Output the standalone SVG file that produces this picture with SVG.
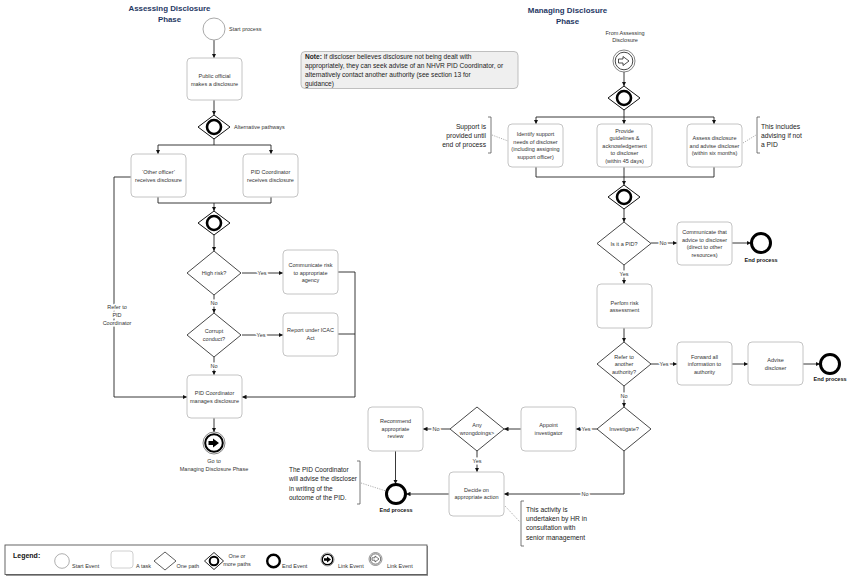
<svg xmlns="http://www.w3.org/2000/svg" width="850" height="579" viewBox="0 0 850 579">
<style>
text{font-family:"Liberation Sans",Arial,sans-serif;fill:#333}
.t{font-size:5.5px;text-anchor:middle}
.l{font-size:5.5px}
.lbl{font-size:5.5px;text-anchor:middle;stroke:#fff;stroke-width:3;paint-order:stroke}
.ttl{font-size:7.9px;font-weight:bold;text-anchor:middle;fill:#1f3864}
.ann{font-size:6.7px;fill:#222}
.end-l{font-size:5.5px;font-weight:bold;text-anchor:middle;fill:#111}
.box{fill:#fff;stroke:#c4c4c4;stroke-width:1}
.dec{fill:#fff;stroke:#333;stroke-width:0.9}
.gw{fill:#fff;stroke:#111;stroke-width:1}
.gwc{fill:none;stroke:#000;stroke-width:2.6}
.ende{fill:#fff;stroke:#000;stroke-width:3}
.start{fill:#fff;stroke:#aaa;stroke-width:1}
.c{fill:none;stroke:#222;stroke-width:0.9}
.ca{fill:none;stroke:#222;stroke-width:0.9;marker-end:url(#ah)}
.br{fill:none;stroke:#555;stroke-width:0.8}
.dot{fill:none;stroke:#999;stroke-width:0.8;stroke-dasharray:1.2 1.2}
</style>
<defs>
<marker id="ah" viewBox="0 0 6 6" refX="6" refY="3" markerWidth="4.5" markerHeight="4.5" markerUnits="userSpaceOnUse" orient="auto">
<path d="M0,0 L6,3 L0,6 z" fill="#111"/>
</marker>
</defs>
<rect width="850" height="579" fill="#fff"/>

<!-- titles -->
<text class="ttl" x="169.5" y="11">Assessing Disclosure</text>
<text class="ttl" x="169.5" y="22">Phase</text>
<text class="ttl" x="567.5" y="13">Managing Disclosure</text>
<text class="ttl" x="567.5" y="24">Phase</text>

<!-- connectors -->
<g id="connectors">
<path class="ca" d="M214,40 V58"/>
<path class="ca" d="M214,100 V115"/>
<path class="c" d="M214,139 V145 M158,145 H271"/>
<path class="ca" d="M158,145 V154"/>
<path class="ca" d="M271,145 V154"/>
<path class="c" d="M158,197 V203 H271 V197"/>
<path class="ca" d="M214,203 V211"/>
<path class="ca" d="M214,235 V251"/>
<path class="ca" d="M242,273 H283"/>
<path class="ca" d="M338,272 H355 V397 H242"/>
<path class="c" d="M338,334 H355"/>
<path class="ca" d="M214,295 V313"/>
<path class="ca" d="M242,335 H283"/>
<path class="ca" d="M214,357 V375"/>
<path class="ca" d="M131,177 H114 V397 H187"/>
<path class="ca" d="M214,418 V432"/>

<path class="ca" d="M624,72 V86"/>
<path class="c" d="M624,110 V117 M536,117 H714"/>
<path class="ca" d="M536,117 V124"/>
<path class="ca" d="M624,117 V124"/>
<path class="ca" d="M714,117 V124"/>
<path class="c" d="M536,167 V177 H714 V167"/>
<path class="ca" d="M624,167 V185"/>
<path class="ca" d="M624,209 V222"/>
<path class="ca" d="M651,243 H677"/>
<path class="ca" d="M732,243 H751"/>
<path class="ca" d="M624,265 V284"/>
<path class="ca" d="M624,328 V342"/>
<path class="ca" d="M651,364 H677"/>
<path class="ca" d="M732,364 H748"/>
<path class="ca" d="M803,364 H820"/>
<path class="ca" d="M624,386 V407"/>
<path class="ca" d="M597,429 H576"/>
<path class="ca" d="M521,429 H504"/>
<path class="ca" d="M450,429 H423"/>
<path class="ca" d="M395.5,451 V484"/>
<path class="ca" d="M477,451 V472"/>
<path class="ca" d="M449,494 H406"/>
<path class="ca" d="M624,451 V494 H504"/>

<!-- connector labels -->
<text class="lbl" x="262" y="275">Yes</text>
<text class="lbl" x="214" y="305">No</text>
<text class="lbl" x="261" y="337">Yes</text>
<text class="lbl" x="214" y="368">No</text>
<text class="lbl" x="117" y="309">Refer to</text>
<text class="lbl" x="117" y="317">PID</text>
<text class="lbl" x="117" y="325">Coordinator</text>
<text class="lbl" x="663" y="245">No</text>
<text class="lbl" x="624" y="276">Yes</text>
<text class="lbl" x="664" y="366">Yes</text>
<text class="lbl" x="624" y="398">No</text>
<text class="lbl" x="586" y="431">Yes</text>
<text class="lbl" x="436" y="431">No</text>
<text class="lbl" x="477" y="463">Yes</text>
<text class="lbl" x="585" y="496">No</text>
</g>

<!-- Left column nodes -->
<g id="start">
<circle class="start" cx="214" cy="29" r="11"/>
<text class="l" x="229" y="31">Start process</text>
</g>
<g id="public-official">
<rect class="box" x="187" y="58" width="55" height="42" rx="4"/>
<text class="t" x="214.5" y="78">Public official</text>
<text class="t" x="214.5" y="85.5">makes a disclosure</text>
</g>
<g id="gateway-alt">
<polygon class="gw" points="214,115 230,127 214,139 198,127"/>
<circle class="gwc" cx="214" cy="127" r="7"/>
<text class="l" x="234" y="129">Alternative pathways</text>
</g>
<g id="other-officer">
<rect class="box" x="131" y="154" width="55" height="43" rx="4"/>
<text class="t" x="158.5" y="174">‘Other officer’</text>
<text class="t" x="158.5" y="181.5">receives disclosure</text>
</g>
<g id="pid-receives">
<rect class="box" x="243" y="154" width="55" height="43" rx="4"/>
<text class="t" x="270.5" y="174">PID Coordinator</text>
<text class="t" x="270.5" y="181.5">receives disclosure</text>
</g>
<g id="gateway-merge">
<polygon class="gw" points="214,211 230,223 214,235 198,223"/>
<circle class="gwc" cx="214" cy="223" r="7"/>
</g>
<g id="high-risk">
<polygon class="dec" points="214,251 241,273 214,295 187,273"/>
<text class="t" x="214" y="275">High risk?</text>
</g>
<g id="communicate-risk">
<rect class="box" x="283" y="250" width="55" height="44" rx="4"/>
<text class="t" x="310.5" y="267">Communicate risk</text>
<text class="t" x="310.5" y="274.5">to appropriate</text>
<text class="t" x="310.5" y="282">agency</text>
</g>
<g id="corrupt">
<polygon class="dec" points="214,313 241,335 214,357 187,335"/>
<text class="t" x="214" y="333">Corrupt</text>
<text class="t" x="214" y="340.5">conduct?</text>
</g>
<g id="report-icac">
<rect class="box" x="283" y="313" width="55" height="43" rx="4"/>
<text class="t" x="310.5" y="332">Report under ICAC</text>
<text class="t" x="310.5" y="339.5">Act</text>
</g>
<g id="pid-manages">
<rect class="box" x="187" y="375" width="55" height="43" rx="4"/>
<text class="t" x="214.5" y="395">PID Coordinator</text>
<text class="t" x="214.5" y="402.5">manages disclosure</text>
</g>
<g id="link-go">
<circle cx="214" cy="443" r="11" fill="#fff" stroke="#666" stroke-width="0.8"/>
<circle cx="214" cy="443" r="8.8" fill="#fff" stroke="#000" stroke-width="2"/>
<polygon points="208.5,441 213,441 213,438.5 219,443 213,447.5 213,445 208.5,445" fill="#000"/>
<text class="t" x="214" y="463">Go to</text>
<text class="t" x="214" y="471">Managing Disclosure Phase</text>
</g>

<!-- Note -->
<g id="note">
<rect x="301" y="51.5" width="217" height="37" rx="4" fill="#efefef" stroke="#b0b0b0" stroke-width="0.8"/>
<text class="ann" x="305" y="59" style="font-size:6.6px"><tspan font-weight="bold">Note:</tspan> If discloser believes disclosure not being dealt with</text>
<text class="ann" x="305" y="68" style="font-size:6.6px">appropriately, they can seek advise of an NHVR PID Coordinator, or</text>
<text class="ann" x="305" y="77" style="font-size:6.6px">alternatively contact another authority (see section 13 for</text>
<text class="ann" x="305" y="86" style="font-size:6.6px">guidance)</text>
</g>

<!-- Right column nodes -->
<g id="link-from">
<text class="t" x="625" y="34.5">From Assessing</text>
<text class="t" x="625" y="42">Disclosure</text>
<circle cx="624" cy="61" r="11" fill="#fff" stroke="#666" stroke-width="0.8"/>
<circle cx="624" cy="61" r="8.8" fill="#fff" stroke="#333" stroke-width="0.9"/>
<polygon points="618.5,59 623,59 623,56.5 629,61 623,65.5 623,63 618.5,63" fill="#fff" stroke="#222" stroke-width="0.8"/>
</g>
<g id="gateway-split">
<polygon class="gw" points="624,86 640,98 624,110 608,98"/>
<circle class="gwc" cx="624" cy="98" r="7"/>
</g>
<g id="identify-support">
<rect class="box" x="508" y="124" width="55" height="43" rx="4"/>
<text class="t" x="535.5" y="136">Identify support</text>
<text class="t" x="535.5" y="143.5">needs of discloser</text>
<text class="t" x="535.5" y="151">(including assigning</text>
<text class="t" x="535.5" y="158.5">support officer)</text>
</g>
<g id="provide-guidelines">
<rect class="box" x="597" y="124" width="55" height="43" rx="4"/>
<text class="t" x="624.5" y="132.5">Provide</text>
<text class="t" x="624.5" y="140">guidelines &amp;</text>
<text class="t" x="624.5" y="147.5">acknowledgement</text>
<text class="t" x="624.5" y="155">to discloser</text>
<text class="t" x="624.5" y="162.5">(within 45 days)</text>
</g>
<g id="assess-disclosure">
<rect class="box" x="687" y="124" width="55" height="43" rx="4"/>
<text class="t" x="714.5" y="140">Assess disclosure</text>
<text class="t" x="714.5" y="147.5">and advise discloser</text>
<text class="t" x="714.5" y="155">(within six months)</text>
</g>
<g id="ann-support">
<text class="ann" x="486" y="128.5" text-anchor="end">Support is</text>
<text class="ann" x="486" y="137.5" text-anchor="end">provided until</text>
<text class="ann" x="486" y="146.5" text-anchor="end">end of process</text>
<path class="br" d="M488,117 H491 V153 H488"/>
<path class="dot" d="M492,135 L508,141"/>
</g>
<g id="ann-includes">
<text class="ann" x="761" y="128.5">This includes</text>
<text class="ann" x="761" y="137.5">advising if not</text>
<text class="ann" x="761" y="146.5">a PID</text>
<path class="br" d="M760,117 H757 V153 H760"/>
<path class="dot" d="M743,143 L756,135"/>
</g>
<g id="gateway-join">
<polygon class="gw" points="624,185 640,197 624,209 608,197"/>
<circle class="gwc" cx="624" cy="197" r="7"/>
</g>
<g id="is-pid">
<polygon class="dec" points="624,222 651,243.5 624,265 597,243.5"/>
<text class="t" x="624" y="245.5">Is it a PID?</text>
</g>
<g id="communicate-advice">
<rect class="box" x="677" y="222" width="55" height="43" rx="4"/>
<text class="t" x="704.5" y="234">Communicate that</text>
<text class="t" x="704.5" y="241.5">advice to discloser</text>
<text class="t" x="704.5" y="249">(direct to other</text>
<text class="t" x="704.5" y="256.5">resources)</text>
</g>
<g id="end-1">
<circle class="ende" cx="761" cy="243" r="9.5"/>
<text class="end-l" x="761" y="262">End process</text>
</g>
<g id="risk-assessment">
<rect class="box" x="597" y="284" width="55" height="44" rx="4"/>
<text class="t" x="624.5" y="304.5">Perfom risk</text>
<text class="t" x="624.5" y="312">assessment</text>
</g>
<g id="refer-authority">
<polygon class="dec" points="624,342 651,364 624,386 597,364"/>
<text class="t" x="624" y="358.5">Refer to</text>
<text class="t" x="624" y="366">another</text>
<text class="t" x="624" y="373.5">authority?</text>
</g>
<g id="forward-info">
<rect class="box" x="677" y="342" width="55" height="43" rx="4"/>
<text class="t" x="704.5" y="358.5">Forward all</text>
<text class="t" x="704.5" y="366">information to</text>
<text class="t" x="704.5" y="373.5">authority</text>
</g>
<g id="advise-discloser">
<rect class="box" x="748" y="342" width="55" height="43" rx="4"/>
<text class="t" x="775.5" y="362">Advise</text>
<text class="t" x="775.5" y="369.5">discloser</text>
</g>
<g id="end-2">
<circle class="ende" cx="830" cy="364" r="9.5"/>
<text class="end-l" x="830" y="381">End process</text>
</g>
<g id="investigate">
<polygon class="dec" points="624,407 651,429 624,451 597,429"/>
<text class="t" x="624" y="431">Investigate?</text>
</g>
<g id="appoint-investigator">
<rect class="box" x="521" y="407" width="55" height="44" rx="4"/>
<text class="t" x="548.5" y="427">Appoint</text>
<text class="t" x="548.5" y="434.5">investigator</text>
</g>
<g id="wrongdoings">
<polygon class="dec" points="477,407 504,429 477,451 450,429"/>
<text class="t" x="477" y="427">Any</text>
<text class="t" x="477" y="434.5">wrongdoings&gt;</text>
</g>
<g id="recommend-review">
<rect class="box" x="368" y="407" width="55" height="44" rx="4"/>
<text class="t" x="395.5" y="423">Recommend</text>
<text class="t" x="395.5" y="430.5">appropriate</text>
<text class="t" x="395.5" y="438">review</text>
</g>
<g id="decide-action">
<rect class="box" x="449" y="472" width="55" height="44" rx="4"/>
<text class="t" x="476.5" y="491.5">Decide on</text>
<text class="t" x="476.5" y="499">appropriate action</text>
</g>
<g id="end-3">
<circle class="ende" cx="396" cy="494" r="9.5"/>
<text class="end-l" x="396" y="512">End process</text>
</g>
<g id="ann-hr">
<path class="br" d="M524,501 H521 V546 H524"/>
<path class="dot" d="M505,506 L520,522"/>
<text class="ann" x="526" y="511.5">This activity is</text>
<text class="ann" x="526" y="520.5">undertaken by HR in</text>
<text class="ann" x="526" y="530">consultation with</text>
<text class="ann" x="526" y="539.5">senior management</text>
</g>
<g id="ann-pid">
<text class="ann" x="289" y="471.5" style="font-size:6.5px">The PID Coordinator</text>
<text class="ann" x="289" y="480.5" style="font-size:6.5px">will advise the discloser</text>
<text class="ann" x="289" y="490.5" style="font-size:6.5px">in writing of the</text>
<text class="ann" x="289" y="499.5" style="font-size:6.5px">outcome of the PID.</text>
<path class="br" d="M357,461 H360 V504 H357"/>
<path class="dot" d="M361,483 L386,491"/>
</g>

<!-- Legend -->
<g id="legend">
<rect x="6" y="546" width="422" height="30" fill="#999"/>
<rect x="5" y="545" width="422" height="29.5" fill="#fff" stroke="#555" stroke-width="0.9"/>
<text x="13" y="557.5" style="font-size:7px;font-weight:bold;fill:#111">Legend:</text>
<circle cx="62" cy="561" r="7.3" fill="#fff" stroke="#999" stroke-width="0.8"/>
<text class="l" x="72" y="567.5">Start Event</text>
<rect x="111" y="551" width="22" height="17" rx="3" fill="#fff" stroke="#c4c4c4" stroke-width="0.8"/>
<text class="l" x="136" y="567.5">A task</text>
<polygon points="165,552 176,561 165,570 154,561" fill="#fff" stroke="#333" stroke-width="0.8"/>
<text class="l" x="176.5" y="567.5">One path</text>
<polygon points="214,552.5 223.5,561 214,569.5 204.5,561" fill="#fff" stroke="#111" stroke-width="0.9"/>
<circle cx="214" cy="561" r="4.3" fill="none" stroke="#000" stroke-width="2"/>
<text class="t" x="237" y="558">One or</text>
<text class="t" x="237" y="566">more paths</text>
<circle cx="273.5" cy="561" r="6.3" fill="#fff" stroke="#000" stroke-width="2.4"/>
<text class="l" x="282" y="567.5">End Event</text>
<circle cx="327.5" cy="559.5" r="6.5" fill="#fff" stroke="#666" stroke-width="0.7"/>
<circle cx="327.5" cy="559.5" r="5.2" fill="#fff" stroke="#000" stroke-width="1.3"/>
<polygon points="324,558.3 327,558.3 327,556.5 331,559.5 327,562.5 327,560.7 324,560.7" fill="#000"/>
<text class="l" x="338" y="567.5">Link Event</text>
<circle cx="375.5" cy="559" r="6.5" fill="#fff" stroke="#666" stroke-width="0.7"/>
<circle cx="375.5" cy="559" r="5.2" fill="#fff" stroke="#333" stroke-width="0.7"/>
<polygon points="372,557.8 375,557.8 375,556 379,559 375,562 375,560.2 372,560.2" fill="#fff" stroke="#222" stroke-width="0.6"/>
<text class="l" x="387" y="567.5">Link Event</text>
</g>
</svg>
